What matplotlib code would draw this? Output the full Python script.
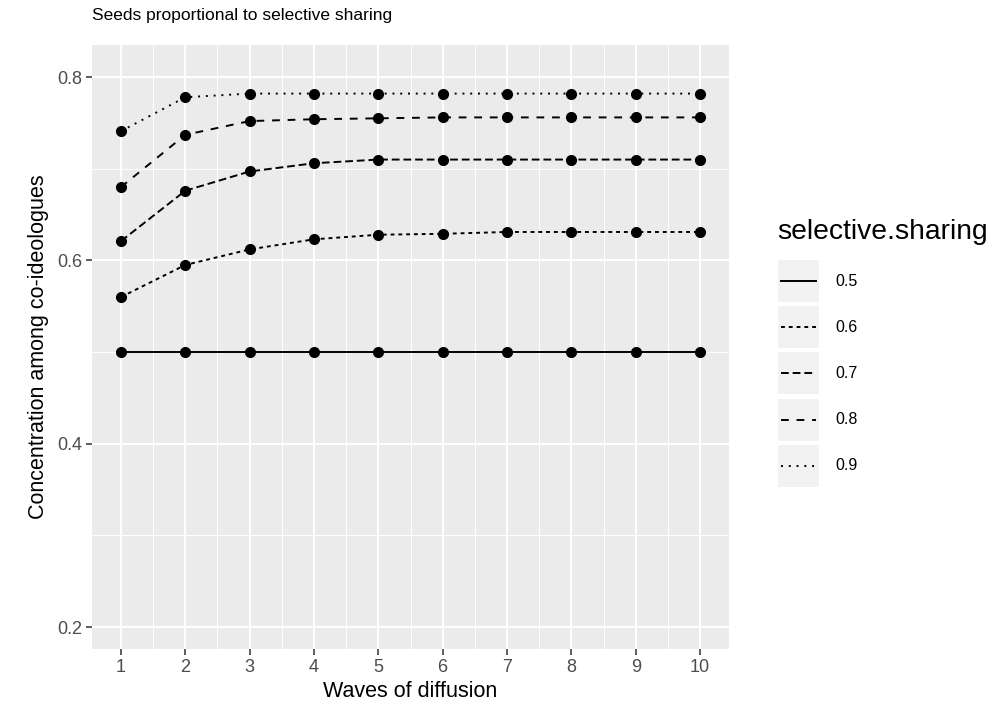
import numpy as np
import matplotlib.pyplot as plt
from matplotlib.patches import Rectangle

plt.rcParams['font.family'] = ['Liberation Sans', 'DejaVu Sans']

# data
waves = [1, 2, 3, 4, 5, 6, 7, 8, 9, 10]
sharing = ["0.5", "0.6", "0.7", "0.8", "0.9"]
conc_05 = [0.500, 0.500, 0.500, 0.500, 0.500, 0.500, 0.500, 0.500, 0.500, 0.500]
conc_06 = [0.560, 0.595, 0.612, 0.623, 0.628, 0.629, 0.631, 0.631, 0.631, 0.631]
conc_07 = [0.621, 0.676, 0.697, 0.706, 0.710, 0.710, 0.710, 0.710, 0.710, 0.710]
conc_08 = [0.680, 0.737, 0.752, 0.754, 0.755, 0.756, 0.756, 0.756, 0.756, 0.756]
conc_09 = [0.741, 0.778, 0.782, 0.782, 0.782, 0.782, 0.782, 0.782, 0.782, 0.782]
series = [conc_05, conc_06, conc_07, conc_08, conc_09]

# ggplot linetypes: solid, 22, 42, 44, 13
dashes = [None, (2, 2), (4, 2), (4, 4), (1, 3)]
lw = 1.4

W, H = 995, 723
fig = plt.figure(figsize=(W / 100, H / 100), dpi=100)
ax = fig.add_axes([92 / W, 1 - 649 / H, (729 - 92) / W, (649 - 45) / H])
ax.set_facecolor('#EBEBEB')

for ys, d in zip(series, dashes):
    line, = ax.plot(waves, ys, color='black', lw=lw, zorder=3)
    if d is not None:
        line.set_dashes(d)
    ax.plot(waves, ys, 'o', color='black', ms=7, zorder=4)

ax.set_xlim(0.55, 10.45)
ax.set_ylim(0.176, 0.835)
ax.set_xticks(waves)
ax.set_xticks(np.arange(1.5, 10, 1), minor=True)
ax.set_yticks([0.2, 0.4, 0.6, 0.8])
ax.set_yticklabels(["0.2", "0.4", "0.6", "0.8"])
ax.set_yticks([0.3, 0.5, 0.7], minor=True)
ax.grid(which='major', color='white', lw=1.4, zorder=0)
ax.grid(which='minor', color='white', lw=0.7, zorder=0)
ax.set_axisbelow(True)
for s in ax.spines.values():
    s.set_visible(False)
ax.tick_params(which='major', length=4, width=1.1, color='#333333',
               labelcolor='#4D4D4D', labelsize=13, pad=3)
ax.tick_params(which='minor', length=0)

ax.set_xlabel("Waves of diffusion", fontsize=15.5, labelpad=4)
ax.set_ylabel("Concentration among co-ideologues", fontsize=15.5, labelpad=6)
ax.set_title("Seeds proportional to selective sharing", fontsize=12.5, loc='left', pad=18)

# legend drawn as ggplot-style key boxes
lax = fig.add_axes([0, 0, 1, 1])
lax.set_xlim(0, W)
lax.set_ylim(H, 0)
lax.axis('off')
lax.text(777, 232, "selective.sharing", fontsize=20.3, va='center', ha='left')
for i, (lab, d) in enumerate(zip(sharing, dashes)):
    yc = 281 + i * 46.2
    lax.add_patch(Rectangle((777, yc - 22), 43, 44, facecolor='#F2F2F2', edgecolor='white', lw=1.5))
    line, = lax.plot([781, 816], [yc, yc], color='black', lw=lw)
    if d is not None:
        line.set_dashes(d)
    lax.text(835, yc, lab, fontsize=11.5, va='center', ha='left')

fig.savefig('out.png', dpi=100)
